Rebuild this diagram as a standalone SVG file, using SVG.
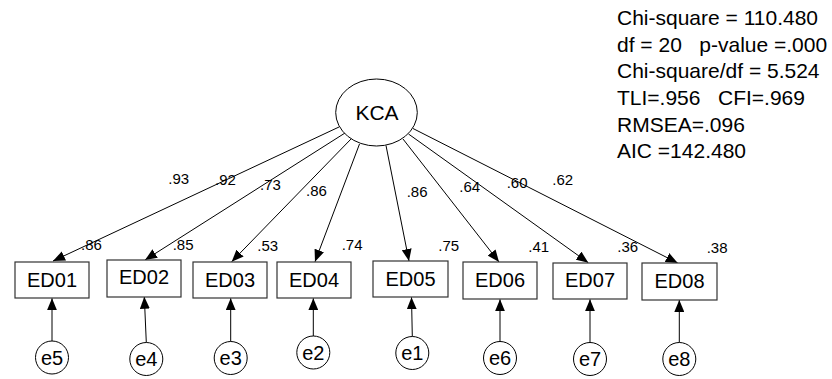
<svg xmlns="http://www.w3.org/2000/svg" width="832" height="379" viewBox="0 0 832 379">
  <style>
    text { font-family: "Liberation Sans", Arial, sans-serif; fill: #000; }
    .obs { fill: #fff; stroke: #333; stroke-width: 1.2; }
    .lat { fill: #fff; stroke: #000; stroke-width: 1; }
    .err { fill: #fff; stroke: #000; stroke-width: 1; }
    .lbl { font-size: 20px; text-anchor: middle; }
    .elbl { font-size: 20px; text-anchor: middle; }
    .coef { font-size: 15px; }
    .fit { font-size: 21px; white-space: pre; }
    .path { stroke: #000; stroke-width: 1; fill: none; marker-end: url(#arrow); }
  </style>
  <defs>
    <marker id="arrow" markerUnits="userSpaceOnUse" markerWidth="12" markerHeight="10" refX="12" refY="5" orient="auto">
      <path d="M0,0 L12,5 L0,10 z" fill="#000"/>
    </marker>
  </defs>
  <rect width="832" height="379" fill="#fff"/>

  <!-- connectors: factor loadings and error terms -->
  <g id="connectors">
    <line class="path" x1="339" y1="127" x2="53" y2="261"/>
    <line class="path" x1="345" y1="133" x2="145" y2="260"/>
    <line class="path" x1="351.5" y1="138.5" x2="231.7" y2="261.7"/>
    <line class="path" x1="359.5" y1="144" x2="315" y2="261.7"/>
    <line class="path" x1="386" y1="145.5" x2="409" y2="261"/>
    <line class="path" x1="403" y1="139" x2="499" y2="262"/>
    <line class="path" x1="408.5" y1="134" x2="588.3" y2="262.7"/>
    <line class="path" x1="413" y1="128.5" x2="677.7" y2="263"/>

    <line class="path" x1="52" y1="341" x2="52" y2="298.3"/>
    <line class="path" x1="146.3" y1="342.5" x2="144.3" y2="296.7"/>
    <line class="path" x1="230.7" y1="341.5" x2="230.7" y2="298.3"/>
    <line class="path" x1="313.3" y1="336" x2="313.3" y2="298.3"/>
    <line class="path" x1="412.3" y1="336.5" x2="411.5" y2="297.3"/>
    <line class="path" x1="500" y1="341.5" x2="500" y2="299.3"/>
    <line class="path" x1="590" y1="342.5" x2="590" y2="299.3"/>
    <line class="path" x1="679.3" y1="342.5" x2="679.3" y2="300"/>
  </g>

  <!-- latent factor -->
  <g id="KCA">
    <ellipse class="lat" cx="376.5" cy="112.5" rx="40.8" ry="33.5"/>
    <text x="377" y="120" style="font-size:21px" text-anchor="middle">KCA</text>
  </g>

  <!-- observed indicators -->
  <g id="ED01"><rect class="obs" x="15" y="262" width="74" height="36"/><text class="lbl" x="52" y="286.7">ED01</text></g>
  <g id="ED02"><rect class="obs" x="107" y="260" width="74" height="37"/><text class="lbl" x="144" y="284.3">ED02</text></g>
  <g id="ED03"><rect class="obs" x="193" y="262" width="74" height="36"/><text class="lbl" x="230" y="287.3">ED03</text></g>
  <g id="ED04"><rect class="obs" x="277" y="262" width="74" height="36"/><text class="lbl" x="314" y="287.3">ED04</text></g>
  <g id="ED05"><rect class="obs" x="373" y="261" width="75" height="36"/><text class="lbl" x="410.5" y="285.5">ED05</text></g>
  <g id="ED06"><rect class="obs" x="463" y="262" width="74" height="37"/><text class="lbl" x="500" y="286.7">ED06</text></g>
  <g id="ED07"><rect class="obs" x="553" y="263" width="74" height="36"/><text class="lbl" x="590" y="287.3">ED07</text></g>
  <g id="ED08"><rect class="obs" x="642" y="263" width="75" height="37"/><text class="lbl" x="679.5" y="288.3">ED08</text></g>

  <!-- error terms -->
  <g id="e5"><circle class="err" cx="52" cy="357.5" r="16.5"/><text class="elbl" x="52" y="364.5">e5</text></g>
  <g id="e4"><circle class="err" cx="146.3" cy="359" r="16.5"/><text class="elbl" x="146.3" y="366">e4</text></g>
  <g id="e3"><circle class="err" cx="230.7" cy="358" r="16.5"/><text class="elbl" x="230.7" y="365">e3</text></g>
  <g id="e2"><circle class="err" cx="313.3" cy="352.5" r="16.5"/><text class="elbl" x="313.3" y="359.5">e2</text></g>
  <g id="e1"><circle class="err" cx="412.3" cy="353" r="16.5"/><text class="elbl" x="412.3" y="360">e1</text></g>
  <g id="e6"><circle class="err" cx="500" cy="358" r="16.5"/><text class="elbl" x="500" y="365">e6</text></g>
  <g id="e7"><circle class="err" cx="590" cy="359" r="16.5"/><text class="elbl" x="590" y="366">e7</text></g>
  <g id="e8"><circle class="err" cx="679.3" cy="359" r="16.5"/><text class="elbl" x="679.3" y="366">e8</text></g>

  <!-- standardized loadings -->
  <g id="loadings">
    <text class="coef" x="168.3" y="184">.93</text>
    <text class="coef" x="215" y="185">.92</text>
    <text class="coef" x="260" y="190">.73</text>
    <text class="coef" x="306" y="195.7">.86</text>
    <text class="coef" x="406.7" y="196.7">.86</text>
    <text class="coef" x="459.3" y="192.3">.64</text>
    <text class="coef" x="506.7" y="187.7">.60</text>
    <text class="coef" x="552.3" y="185">.62</text>
  </g>

  <!-- squared multiple correlations -->
  <g id="r2">
    <text class="coef" x="81" y="250">.86</text>
    <text class="coef" x="172.7" y="250">.85</text>
    <text class="coef" x="257.3" y="251">.53</text>
    <text class="coef" x="341.7" y="250">.74</text>
    <text class="coef" x="438.3" y="251">.75</text>
    <text class="coef" x="528.3" y="251.7">.41</text>
    <text class="coef" x="617.3" y="251.7">.36</text>
    <text class="coef" x="706.7" y="252.7">.38</text>
  </g>

  <!-- model fit summary -->
  <g id="fit">
    <text class="fit" x="617" y="25">Chi-square = 110.480</text>
    <text class="fit" x="617" y="51.7">df = 20   p-value =.000</text>
    <text class="fit" x="617" y="78.3">Chi-square/df = 5.524</text>
    <text class="fit" x="617" y="105">TLI=.956   CFI=.969</text>
    <text class="fit" x="617" y="131.7">RMSEA=.096</text>
    <text class="fit" x="617" y="158.3">AIC =142.480</text>
  </g>
</svg>
